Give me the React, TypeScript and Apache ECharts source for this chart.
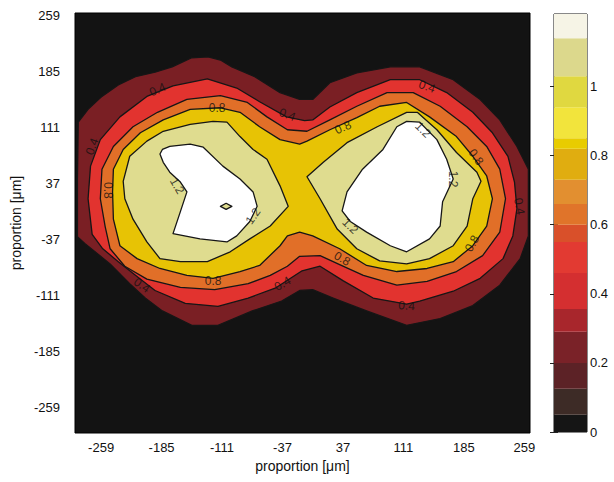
import React, { useEffect, useRef } from "react";
import * as echarts from "echarts";

// ---------- axis ticks ----------
const xTickValues = [-259, -185, -111, -37, 37, 111, 185, 259];
const yTickValues = [-259, -185, -111, -37, 37, 111, 185, 259];
const colorbarTickValues = [0, 0.2, 0.4, 0.6, 0.8, 1];

// ---------- contour levels & fill colours ----------
const levelValues = [0.2, 0.4, 0.6, 0.8, 1.0, 1.2];
const levelColors = ["#7a1f24", "#e2332f", "#e16f28", "#e7c305", "#dfdc8f", "#ffffff"];

// ---------- contour outlines (µm, µm) ----------
const contour02 = [
  [-288, -33], [-288, 43], [-287, 118], [-275, 135], [-258, 152], [-238, 167], [-217, 178], [-193, 184],
  [-172, 191], [-148, 203], [-128, 204], [-113, 200], [-99, 191], [-71, 178], [-40, 157], [-16, 148],
  [0, 148], [21, 170], [54, 183], [95, 191], [131, 191], [172, 174], [205, 148], [229, 121], [250, 86],
  [264, 56], [264, -32], [254, -62], [229, -97], [196, -124], [156, -141], [115, -150], [66, -131],
  [25, -114], [0, -103], [-16, -104], [-38, -118], [-74, -131], [-116, -150], [-148, -150], [-184, -131],
  [-205, -114], [-224, -95], [-248, -69], [-279, -42],
];
const contour04 = [
  [-270, -30], [-275, 17], [-272, 60], [-260, 95], [-236, 125], [-203, 152], [-171, 166], [-129, 175],
  [-93, 163], [-65, 145], [-32, 125], [-10, 120], [0, 121], [21, 138], [54, 157], [95, 174], [131, 174],
  [164, 157], [196, 131], [220, 104], [239, 73], [247, 39], [250, 4], [245, -32], [233, -62], [205, -88],
  [172, -105], [131, -118], [115, -122], [74, -114], [37, -91], [9, -72], [-13, -78], [-46, -101],
  [-79, -114], [-116, -125], [-156, -121], [-193, -104], [-217, -84], [-238, -66], [-257, -49],
];
const contour06 = [
  [-254, -20], [-260, 17], [-258, 56], [-244, 86], [-220, 112], [-190, 131], [-154, 148], [-113, 153],
  [-80, 144], [-56, 125], [-31, 108], [-7, 106], [21, 121], [54, 139], [91, 157], [123, 157], [156, 139],
  [189, 112], [213, 86], [229, 56], [236, 17], [229, -27], [208, -58], [176, -79], [140, -92], [103, -97],
  [62, -84], [33, -70], [9, -58], [-16, -59], [-31, -72], [-52, -84], [-79, -95], [-120, -103],
  [-162, -100], [-203, -89], [-230, -72], [-248, -49],
];
const contour08 = [
  [-244, -10], [-245, 26], [-244, 56], [-232, 82], [-211, 104], [-183, 121], [-150, 135], [-113, 137],
  [-89, 131], [-65, 112], [-40, 95], [-16, 89], [-7, 93], [21, 108], [54, 124], [82, 139], [115, 144],
  [143, 125], [176, 99], [196, 73], [213, 47], [220, 17], [213, -19], [196, -45], [172, -66], [140, -75],
  [103, -79], [66, -71], [33, -49], [0, -32], [-16, -27], [-31, -32], [-40, -45], [-65, -71], [-89, -79],
  [-122, -88], [-154, -84], [-187, -75], [-215, -62], [-236, -45],
];
const contour10Left = [
  [-232, 40], [-224, 73], [-203, 93], [-183, 106], [-150, 115], [-122, 119], [-105, 118], [-89, 99],
  [-73, 82], [-56, 69], [-40, 34], [-30, 7], [-52, -19], [-77, -36], [-101, -53], [-129, -66], [-162, -66],
  [-187, -62], [-203, -40], [-220, -10], [-230, 17],
];
const contour10Right = [
  [-7, 46], [13, 65], [42, 91], [79, 112], [115, 131], [128, 131], [152, 108], [176, 78], [201, 52],
  [206, 40], [196, 17], [189, -19], [172, -45], [143, -62], [115, -69], [82, -65], [54, -49], [30, -23],
  [9, 17],
];
const contour12Left = [
  [-184, 82], [-175, 86], [-150, 89], [-134, 85], [-110, 60], [-89, 43], [-73, 26], [-68, 7], [-77, -13],
  [-93, -32], [-105, -40], [-138, -36], [-171, -29], [-162, 0], [-154, 26], [-162, 39], [-175, 52],
  [-183, 65], [-187, 76],
];
const contour12Right = [
  [36, 1], [42, 26], [61, 56], [86, 82], [103, 112], [115, 119], [131, 118], [152, 95], [164, 69],
  [172, 43], [159, 13], [156, -19], [143, -36], [115, -53], [95, -45], [66, -27], [46, -13],
];
const contour10Island = [[-113, 7], [-106, 11], [-99, 7], [-106, 3]];

// ---------- inline contour labels ----------
const labelTexts = ["0.4", "0.4", "0.4", "0.4", "0.4", "0.4", "0.4", "0.4",
  "0.8", "0.8", "0.8", "0.8", "0.8", "0.8", "0.8", "1.2", "1.2", "1.2", "1.2", "1.2"];
const labelPositions = [
  [-190, 161], [-31, 128], [140, 165], [253, 7], [-270, 86], [-209, -97], [-37, -95], [115, -124],
  [-117, 137], [-250, 28], [-122, -91], [37, 111], [200, 72], [195, -42], [36, -62],
  [-166, 34], [-73, -6], [135, 108], [172, 43], [46, -19],
];
const labelAngles = [23, -20, -20, -80, 70, -35, 30, -5, 0, -90, 0, 25, -55, 60, -30, -60, 55, -45, -90, -45];

// ---------- colour bar ----------
const colorbarEdges = [0, 0.05, 0.125, 0.2, 0.29, 0.356, 0.46, 0.55, 0.6, 0.66, 0.73, 0.82, 0.85, 0.94, 1.03, 1.14, 1.21];
const colorbarColors = [
  "#151515", "#3d2b26", "#5c2226", "#7a2228", "#a8262c", "#d42f30", "#e23a32", "#d9502a",
  "#e0742a", "#e28f30", "#e0ad10", "#e8cc00", "#f2e43c", "#e0d840", "#dcd88c", "#f6f4e6",
];

const FONT = '"Liberation Sans", Arial, sans-serif';

const polygons = [
  { level: 0, points: contour02 },
  { level: 1, points: contour04 },
  { level: 2, points: contour06 },
  { level: 3, points: contour08 },
  { level: 4, points: contour10Left },
  { level: 4, points: contour10Right },
  { level: 5, points: contour12Left },
  { level: 5, points: contour12Right },
  { level: 4, points: contour10Island },
];

export default function App() {
  const ref = useRef<HTMLDivElement>(null);

  useEffect(() => {
    if (!ref.current) return;
    const chart = echarts.init(ref.current, null, { renderer: "svg" });

    const option: any = {
      animation: false,
      backgroundColor: "#ffffff",
      textStyle: { fontFamily: FONT },
      grid: [
        { left: 75, top: 13, width: 455, height: 420, show: true, backgroundColor: "#131313", borderColor: "#000", borderWidth: 1 },
        { left: 554, top: 14, width: 33, height: 418, show: true, backgroundColor: "transparent", borderColor: "#111", borderWidth: 1 },
      ],
      xAxis: [
        {
          type: "value", gridIndex: 0, min: -291, max: 266,
          axisLine: { show: false }, axisTick: { show: false }, splitLine: { show: false },
          axisLabel: { customValues: xTickValues, fontSize: 13, color: "#111", margin: 8, fontFamily: FONT },
          name: "proportion [μm]", nameLocation: "middle", nameGap: 26,
          nameTextStyle: { fontSize: 14, color: "#111", fontFamily: FONT },
        },
        { type: "value", gridIndex: 1, min: 0, max: 1, show: false },
      ],
      yAxis: [
        {
          type: "value", gridIndex: 0, min: -292, max: 262,
          axisLine: { show: false }, axisTick: { show: false }, splitLine: { show: false },
          axisLabel: { customValues: yTickValues, fontSize: 13, color: "#111", margin: 15, fontFamily: FONT },
          name: "proportion [μm]", nameLocation: "middle", nameGap: 40, nameRotate: 90,
          nameTextStyle: { fontSize: 14, color: "#111", fontFamily: FONT },
        },
        {
          type: "value", gridIndex: 1, position: "right", min: 0, max: 1.21,
          axisLine: { show: false }, splitLine: { show: false },
          axisTick: { show: true, inside: true, length: 4, customValues: colorbarTickValues, lineStyle: { color: "#222" } },
          axisLabel: {
            customValues: colorbarTickValues, fontSize: 13, color: "#111", margin: 3, fontFamily: FONT,
            formatter: (v: number) => String(Math.round(v * 10) / 10),
          },
        },
        {
          type: "value", gridIndex: 1, position: "left", min: 0, max: 1.21,
          axisLine: { show: false }, splitLine: { show: false },
          axisTick: { show: true, inside: true, length: 4, customValues: colorbarTickValues, lineStyle: { color: "#222" } },
          axisLabel: { show: false },
        },
      ],
      series: [
        {
          type: "custom", xAxisIndex: 0, yAxisIndex: 0, silent: true, clip: true,
          data: polygons.map((p, i) => [p.points[0][0], p.points[0][1], i]),
          renderItem: (params: any, api: any) => {
            const poly = polygons[params.dataIndex];
            const pts = poly.points.map((pt) => api.coord(pt));
            return {
              type: "polygon",
              shape: { points: pts },
              style: { fill: levelColors[poly.level], stroke: "#161616", lineWidth: 1.3, lineJoin: "round" },
            };
          },
        },
        {
          type: "scatter", xAxisIndex: 0, yAxisIndex: 0, silent: true, symbolSize: 1,
          itemStyle: { color: "transparent" },
          data: labelPositions.map((p, i) => ({
            name: labelTexts[i], value: p, label: { rotate: labelAngles[i] },
          })),
          label: { show: true, position: "inside", formatter: "{b}", fontSize: 12, color: "#111", fontFamily: FONT },
        },
        {
          type: "custom", xAxisIndex: 1, yAxisIndex: 1, silent: true,
          data: colorbarColors.map((c, i) => [colorbarEdges[i], colorbarEdges[i + 1], i]),
          renderItem: (params: any, api: any) => {
            const lo = api.value(0);
            const hi = api.value(1);
            const p1 = api.coord([0, lo]);
            const p2 = api.coord([1, hi]);
            return {
              type: "rect",
              shape: { x: p1[0], y: p2[1], width: p2[0] - p1[0], height: p1[1] - p2[1] },
              style: { fill: colorbarColors[api.value(2)], stroke: null },
            };
          },
        },
      ],
    };
    chart.setOption(option);
    return () => chart.dispose();
  }, []);

  return (
    <div
      ref={ref}
      style={{ position: "fixed", left: 0, top: 0, width: 614, height: 482, background: "#fff" }}
    />
  );
}
